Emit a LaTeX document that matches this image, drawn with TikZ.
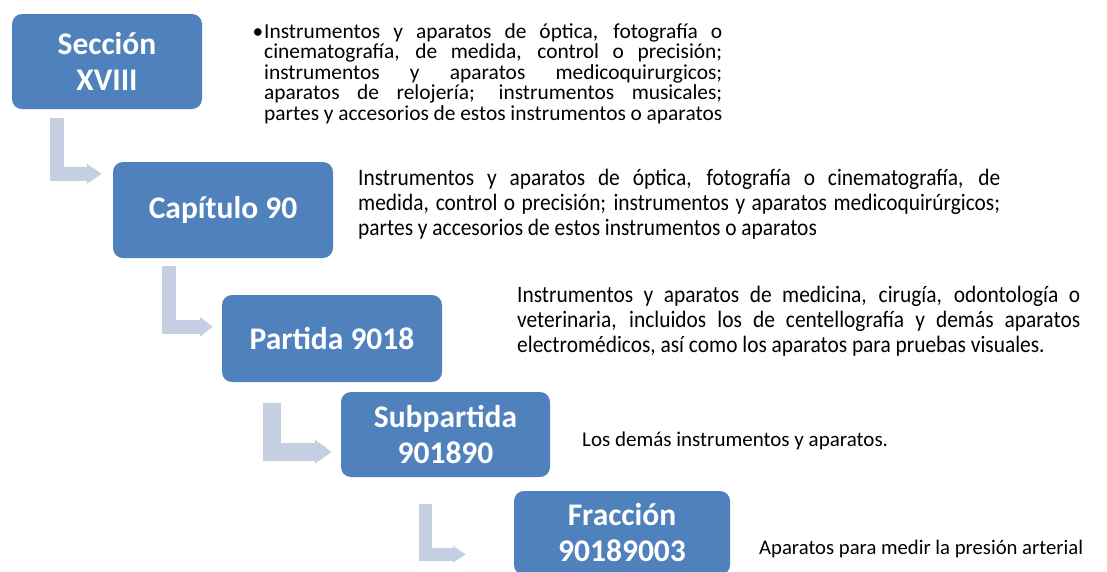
\documentclass[tikz,border=0pt]{standalone}
\usepackage{fontspec}
\setmainfont{Carlito}
\usetikzlibrary{arrows.meta}
\definecolor{azulcaja}{RGB}{79,129,189}
\definecolor{azulflecha}{RGB}{196,207,226}
\tikzset{
	caja/.style={fill=azulcaja, rounded corners=10pt, inner sep=0pt, align=center,
		text=white, font=\fontsize{31.5}{36}\selectfont\bfseries},
	texto/.style={anchor=base west, inner sep=0pt, font=\fontsize{21.4}{20.5}\selectfont},
	flecha/.style n args={3}{draw=azulflecha, line width=#1,
		-{Triangle[width=#2,length=#3]}}
}

\begin{document}
\begin{tikzpicture}[x=1pt, y=-1pt]
		%%%%% START %%%%%
		\useasboundingbox (0,0) rectangle (1107,571);
		\clip (0,0) rectangle (1107,571);
		
		\node[caja, minimum width=190pt, minimum height=95pt] (seccion) at (107,61.5) {Sección\\XVIII};
		\node[caja, minimum width=220pt, minimum height=96pt] (capitulo) at (223,210) {Capítulo 90};
		\node[caja, minimum width=220pt, minimum height=87pt] (partida) at (332,338.5) {Partida 9018};
		\node[caja, minimum width=209pt, minimum height=85pt] (subpartida) at (445.5,434.5) {Subpartida\\901890};
		\node[caja, minimum width=216pt, minimum height=84pt] (fraccion) at (622,533) {Fracción\\90189003};
		
		\draw[flecha={14pt}{19pt}{15pt}] ([shift={(45,9)}]seccion.south west) |- ([shift={(-11,12)}]capitulo.north west);
		\draw[flecha={14pt}{19pt}{13pt}] ([shift={(56,8)}]capitulo.south west) |- ([shift={(-9,32)}]partida.north west);
		\draw[flecha={18pt}{23pt}{17pt}] ([shift={(50,21)}]partida.south west) |- ([shift={(-9,60)}]subpartida.north west);
		\draw[flecha={13pt}{16pt}{13pt}] ([shift={(84.5,27)}]subpartida.south west) |- ([shift={(-48,63.5)}]fraccion.north west);
		
		\node[texto] (tseccion) at (264,38) {\parbox[t]{458pt}{\leavevmode\llap{\textbullet\hspace{1pt}}Instrumentos y aparatos de óptica, fotografía o\linebreak
				cinematografía, de medida, control o precisión;\linebreak
				instrumentos y aparatos medicoquirurgicos;\linebreak
				aparatos de relojería; instrumentos musicales;\linebreak
				partes y accesorios de estos instrumentos o aparatos}};
		
		\node[texto] (tcapitulo) at (358,185) {\scalebox{1}[1.1]{\parbox[t]{642pt}{\fontsize{21.4}{22.8}\selectfont
					Instrumentos y aparatos de óptica, fotografía o cinematografía, de\linebreak
					medida, control o precisión; instrumentos y aparatos medicoquirúrgicos;\linebreak
					partes y accesorios de estos instrumentos o aparatos}}};
		
		\node[texto] (tpartida) at (517,302) {\scalebox{1}[1.1]{\parbox[t]{563pt}{\fontsize{21.4}{23}\selectfont
					Instrumentos y aparatos de medicina, cirugía, odontología o\linebreak
					veterinaria, incluidos los de centellografía y demás aparatos\linebreak
					electromédicos, así como los aparatos para pruebas visuales.}}};
		
		\node[texto, font=\fontsize{21}{24}\selectfont] (tsubpartida) at (582,446) {Los demás instrumentos y aparatos.};
		\node[texto, font=\fontsize{20.7}{24}\selectfont] (tfraccion) at (759,554) {Aparatos para medir la presión arterial};
		
		%%%%% END %%%%%
	\end{tikzpicture}
\end{document}
